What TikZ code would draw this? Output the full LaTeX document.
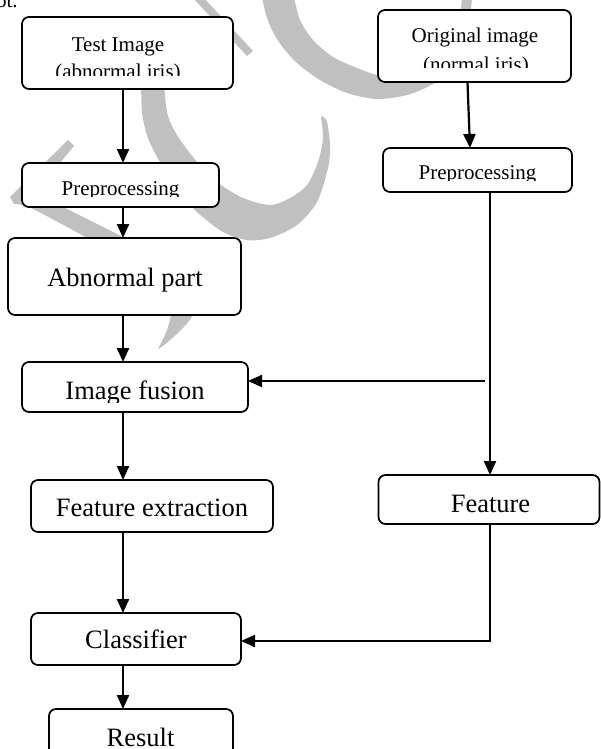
\documentclass[tikz,border=0pt]{standalone}
\usepackage{fontspec}
\setmainfont{Liberation Serif}
\usetikzlibrary{arrows.meta}
\definecolor{wm}{RGB}{192,192,192}
\newcommand\txtS{\fontsize{21}{25}\selectfont}
\newcommand\txtL{\fontsize{26.5}{30}\selectfont}
\begin{document}
\begin{tikzpicture}[x=1pt,y=-1pt,
  box/.style={draw, line width=1.7pt, rounded corners=7pt, fill=white, inner sep=0pt, outer sep=0pt},
  lbl/.style={anchor=base, inner sep=0pt, outer sep=0pt},
  arr/.style={line width=2.2pt, -{Triangle[width=12pt,length=14pt]}}]
\useasboundingbox (0,0) rectangle (601,749);
% ---- watermark ----
\fill[wm] plot[smooth] coordinates {(262,-3) (266,15) (272,30) (281,45) (297,63) (320,80) (347,93) (377,99) (407,95) (433,84) (448,70) (462,45) (470,15) (472,-3)}
  -- plot[smooth] coordinates {(462,-3) (459,20) (450,42) (436,60) (415,72) (395,77) (377,75) (357,68) (333,57) (313,40) (300,20) (294,-3)} -- cycle;
\fill[wm] plot[smooth] coordinates {(141,70) (142,112) (148,138) (160,162) (180,192) (197,212) (223,232) (247,240) (270,238) (297,225) (317,202) (328,168) (330,145) (327,122) (322,116)}
  -- plot[smooth] coordinates {(321,118) (323,138) (318,162) (307,185) (290,198) (270,205) (243,198) (217,182) (197,162) (177,135) (167,112) (163,70)} -- cycle;
\fill[wm] (68,140) -- (10,197)
  -- plot[smooth] coordinates {(14,204) (33,209) (100,245) (140,268) (163,290) (171,310) (167,330) (158,349)}
  -- plot[smooth] coordinates {(163,346) (180,331) (193,315) (196,295) (185,275) (160,257) (123,237) (63,207) (35,193)}
  -- (74,146) -- cycle;
\fill[wm] (192,-3) -- (203,-3) -- (253,51) -- (247,56) -- cycle;
% ---- stray text ----
\node[lbl, anchor=base west] (ot) at (-4,8) {\txtS ot.};
% ---- boxes ----
\node[box, minimum width=211pt, minimum height=72pt] (test) at (127.5,53) {};
\begin{scope}
\clip (22,17) rectangle (233,76);
\node[lbl] (testA) at (118,52) {\txtS Test Image};
\node[lbl] (testB) at (118,79) {\txtS (abnormal iris)};
\end{scope}
\node[box, minimum width=193pt, minimum height=72pt] (orig) at (474.5,46) {};
\begin{scope}
\clip (378,10) rectangle (571,68);
\node[lbl] (origA) at (475,43) {\txtS Original image};
\node[lbl] (origB) at (476,71.5) {\txtS (normal iris)};
\end{scope}
\node[box, minimum width=197pt, minimum height=44pt] (preA) at (120.5,185) {};
\begin{scope}
\clip (22,163) rectangle (219,196);
\node[lbl] (preAt) at (120.5,195) {\txtS Preprocessing};
\end{scope}
\node[box, minimum width=189pt, minimum height=44pt] (preB) at (477.5,170) {};
\begin{scope}
\clip (383,148) rectangle (572,180.5);
\node[lbl] (preBt) at (477.5,179.5) {\txtS Preprocessing};
\end{scope}
\node[box, minimum width=233pt, minimum height=77pt] (abn) at (124.5,276.5) {};
\node[lbl] (abnt) at (125,286) {\txtL Abnormal part};
\node[box, minimum width=226pt, minimum height=50pt] (fus) at (135,387) {};
\begin{scope}
\clip (22,362) rectangle (248,402);
\node[lbl] (fust) at (135,399) {\txtL Image fusion};
\end{scope}
\node[box, minimum width=242pt, minimum height=52pt] (fex) at (152,506) {};
\node[lbl] (fext) at (152,516.5) {\txtL Feature extraction};
\node[box, minimum width=221pt, minimum height=49pt] (feat) at (489,499.5) {};
\node[lbl] (featt) at (490.5,512.5) {\txtL Feature};
\node[box, minimum width=210pt, minimum height=52pt] (cls) at (136,639) {};
\node[lbl] (clst) at (136,648.5) {\txtL Classifier};
\node[box, minimum width=184pt, minimum height=52pt] (res) at (141,735) {};
\node[lbl] (rest) at (140.5,746) {\txtL Result};
% ---- connectors ----
\coordinate (spine) at (123,0);
\coordinate (rcol) at (490,0);
\coordinate (fj) at (485,381);
\coordinate (cj) at (490,641);
\draw[arr] (test.south -| spine) -- (preA.north -| spine);
\draw[arr] (preA.south -| spine) -- (abn.north -| spine);
\draw[arr] (abn.south -| spine) -- (fus.north -| spine);
\draw[arr] (fus.south -| spine) -- (fex.north -| spine);
\draw[arr] (fex.south -| spine) -- (cls.north -| spine);
\draw[arr] (cls.south -| spine) -- (res.north -| spine);
\draw[arr] ([xshift=-7pt]orig.south) -- ([xshift=-7.5pt]preB.north);
\draw[arr] (preB.south -| rcol) -- (feat.north -| rcol);
\draw[arr] (fj) -- (fj -| fus.east);
\draw[arr] (feat.south -| cj) -- (cj) -- (cj -| cls.east);
\end{tikzpicture}
\end{document}
